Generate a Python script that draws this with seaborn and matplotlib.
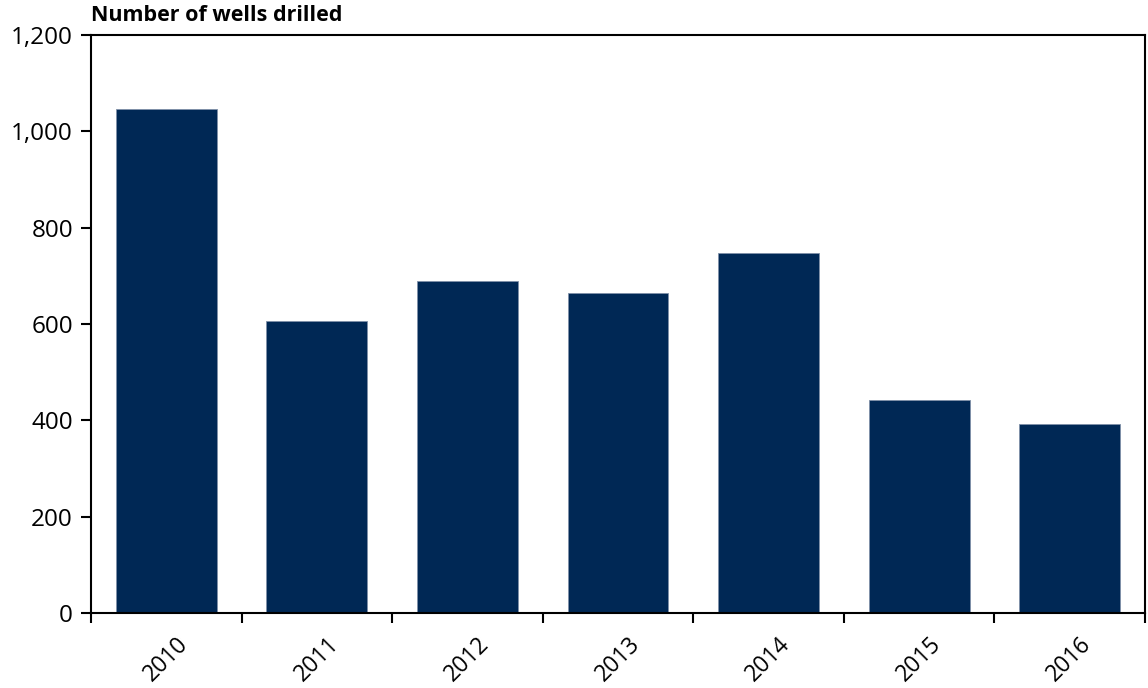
import matplotlib
matplotlib.use("Agg")
import matplotlib.pyplot as plt
import seaborn as sns
import pandas as pd
import numpy as np
from matplotlib.ticker import FuncFormatter, FixedLocator

years = ["2010", "2011", "2012", "2013", "2014", "2015", "2016"]
wells = [1046, 606, 689, 664, 747, 442, 392]

sns.set_theme(style="white")
plt.rcParams['font.family'] = ['Open Sans', 'DejaVu Sans']
plt.rcParams['text.color'] = 'black'
plt.rcParams['xtick.color'] = 'black'
plt.rcParams['ytick.color'] = 'black'

fig = plt.figure(figsize=(11.48, 6.88), dpi=100)
ax = fig.add_axes([0.0793, 0.109, 0.918, 0.840])

df = pd.DataFrame({"year": years, "wells": wells})
sns.barplot(data=df, x="year", y="wells", color="#002855", saturation=1,
            width=0.67, ax=ax, edgecolor="#8090a8", linewidth=0.6)

ax.set_xlim(-0.5, len(years) - 0.5)
ax.set_ylim(0, 1200)
ax.set_yticks(np.arange(0, 1201, 200))
ax.yaxis.set_major_formatter(FuncFormatter(lambda v, p: f"{int(v):,}"))
ax.set_xlabel("")
ax.set_ylabel("")

for s in ax.spines.values():
    s.set_visible(True)
    s.set_color("black")
    s.set_linewidth(1.5)

ax.tick_params(axis="y", which="major", direction="out", length=7, width=1.5,
               labelsize=17.5, left=True, color="black", labelcolor="black", pad=6)
ax.tick_params(axis="x", which="major", length=0, labelsize=16.5, pad=14,
               labelcolor="black")
ax.xaxis.set_minor_locator(FixedLocator(np.arange(-0.5, len(years), 1.0)))
ax.tick_params(axis="x", which="minor", direction="out", length=7, width=1.5,
               bottom=True, color="black")
for lbl in ax.get_xticklabels():
    lbl.set_rotation(45)
    lbl.set_ha("center")
    lbl.set_va("top")
    lbl.set_rotation_mode("default")

fig.text(0.0793, 0.962, "Number of wells drilled", fontsize=15.5, fontweight="bold",
         ha="left", va="bottom", color="black")

fig.savefig("out.png", dpi=100)
